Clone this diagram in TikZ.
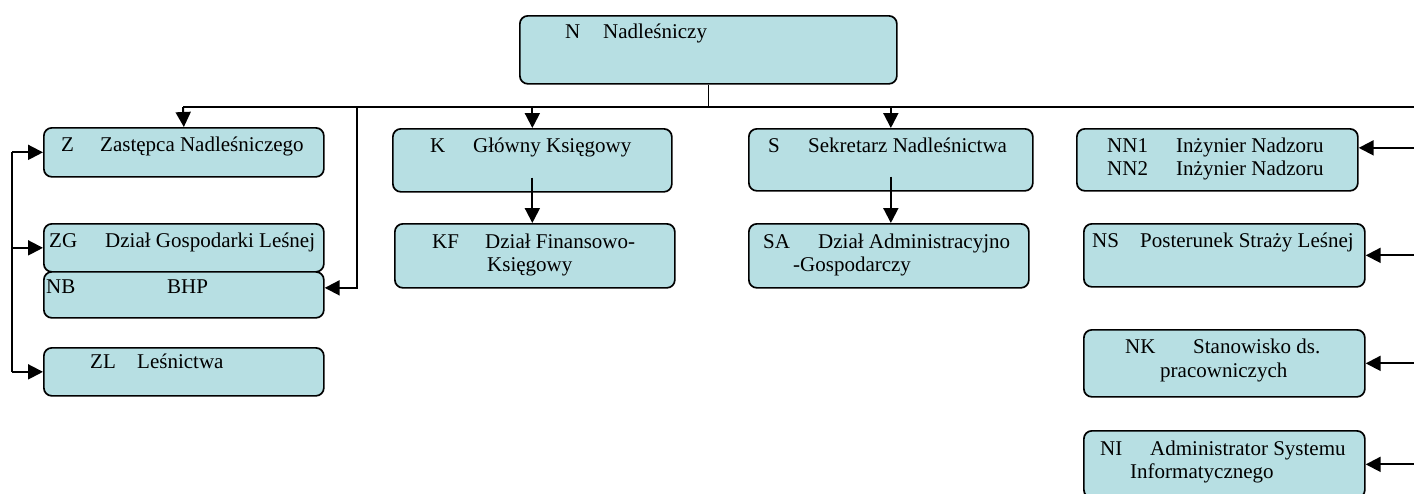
\documentclass[tikz,border=0pt]{standalone}
\usepackage{fontspec}
\setmainfont{Liberation Serif}
\usetikzlibrary{arrows.meta}
\usetikzlibrary{positioning}

\definecolor{unitfill}{HTML}{B7DFE3}

\tikzset{
    unit/.style={draw, line width=1.7pt, rounded corners=8pt, fill=unitfill,
        anchor=north west, inner sep=0pt},
    unittext/.style={anchor=base west, inner sep=0pt,
        font=\fontsize{21pt}{23pt}\selectfont},
    link/.style={line width=2pt},
    linkarrow/.style={line width=2pt, -{Triangle[length=15pt,width=15pt]}},
}

\begin{document}
\begin{tikzpicture}[x=1pt, y=-1pt]

            \useasboundingbox (0,0) rectangle (1414,493);

            % top
            \node[unit, minimum width=377pt, minimum height=68pt] (N) at (519,15) {};
            \node[unittext] (N-code) at (565,38) {N};
            \node[unittext] (N-name) at (603,38) {Nadleśniczy};

            % left column
            \node[unit, minimum width=280pt, minimum height=49pt] (Z) at (43,127) {};
            \node[unittext] (Z-code) at (61,151) {Z};
            \node[unittext] (Z-name) at (100,151) {Zastępca Nadleśniczego};

            \node[unit, minimum width=280pt, minimum height=48pt] (ZG) at (43,223) {};
            \node[unittext] (ZG-code) at (49,247) {ZG};
            \node[unittext] (ZG-name) at (105,247) {Dział Gospodarki Leśnej};

            \node[unit, minimum width=280pt, minimum height=46pt] (NB) at (43,271) {};
            \node[unittext] (NB-code) at (46,293) {NB};
            \node[unittext] (NB-name) at (167,293) {BHP};

            \node[unit, minimum width=280pt, minimum height=48pt] (ZL) at (43,347) {};
            \node[unittext] (ZL-code) at (90,368) {ZL};
            \node[unittext] (ZL-name) at (137,368) {Leśnictwa};

            % middle columns
            \node[unit, minimum width=279pt, minimum height=63pt] (K) at (392,128) {};
            \node[unittext] (K-code) at (430,152) {K};
            \node[unittext] (K-name) at (473,152) {Główny Księgowy};

            \node[unit, minimum width=280pt, minimum height=64pt] (KF) at (394,223) {};
            \node[unittext] (KF-code) at (432,248) {KF};
            \node[unittext] (KF-name) at (485,248) {Dział Finansowo-};
            \node[unittext] (KF-name2) at (487,271) {Księgowy};

            \node[unit, minimum width=284pt, minimum height=62pt] (S) at (748,128) {};
            \node[unittext] (S-code) at (768,152) {S};
            \node[unittext] (S-name) at (808,152) {Sekretarz Nadleśnictwa};

            \node[unit, minimum width=280pt, minimum height=64pt] (SA) at (748,223) {};
            \node[unittext] (SA-code) at (763,248) {SA};
            \node[unittext] (SA-name) at (818,248) {Dział Administracyjno};
            \node[unittext] (SA-name2) at (793,271) {-Gospodarczy};

            % right column
            \node[unit, minimum width=281pt, minimum height=62pt] (NN) at (1076,128) {};
            \node[unittext] (NN-code) at (1107,152) {NN1};
            \node[unittext] (NN-name) at (1176,152) {Inżynier Nadzoru};
            \node[unittext] (NN-code2) at (1107,175) {NN2};
            \node[unittext] (NN-name2) at (1176,175) {Inżynier Nadzoru};

            \node[unit, minimum width=281pt, minimum height=63pt] (NS) at (1083,223) {};
            \node[unittext] (NS-code) at (1092,247) {NS};
            \node[unittext] (NS-name) at (1140,247) {Posterunek Straży Leśnej};

            \node[unit, minimum width=281pt, minimum height=67pt] (NK) at (1083,329) {};
            \node[unittext] (NK-code) at (1125,353) {NK};
            \node[unittext] (NK-name) at (1193,353) {Stanowisko ds.};
            \node[unittext] (NK-name2) at (1160,377) {pracowniczych};

            \node[unit, minimum width=281pt, minimum height=67pt] (NI) at (1083,430) {};
            \node[unittext] (NI-code) at (1100,455) {NI};
            \node[unittext] (NI-name) at (1150,455) {Administrator Systemu};
            \node[unittext] (NI-name2) at (1130,478) {Informatycznego};

            % connectors
            \coordinate (bus-w) at (183,107);
            \coordinate (bus-e) at (1416,107);
            \coordinate (nb-drop) at (357,107);
            \coordinate (z-rail) at (12,155);
            \coordinate (nn-in) at ([yshift=12pt]NN.east);

            \draw[line width=1pt] (N.south) -- (N.south |- bus-w);
            \draw[link] (bus-w) -- (bus-e);
            \draw[link] (bus-e) -- (bus-e |- NI.east);

            \draw[linkarrow] (bus-w) -- (Z.north);
            \draw[linkarrow] (K.north |- bus-w) -- (K.north);
            \draw[linkarrow] (S.north |- bus-w) -- (S.north);
            \draw[linkarrow] (nb-drop) |- ([yshift=7pt]NB.east);

            \draw[linkarrow] ([yshift=15pt]K.south) -- (K.south |- KF.north);
            \draw[linkarrow] ([yshift=15pt]S.south) -- (S.south |- SA.north);

            \draw[link] (z-rail |- Z.west) -- (z-rail |- ZL.west);
            \draw[linkarrow] (z-rail |- Z.west) -- (Z.west);
            \draw[linkarrow] (z-rail |- ZG.west) -- (ZG.west);
            \draw[linkarrow] (z-rail |- ZL.west) -- (ZL.west);

            \draw[linkarrow] (nn-in -| bus-e) -- (nn-in);
            \draw[linkarrow] (bus-e |- NS.east) -- (NS.east);
            \draw[linkarrow] (bus-e |- NK.east) -- (NK.east);
            \draw[linkarrow] (bus-e |- NI.east) -- (NI.east);

\end{tikzpicture}
\end{document}
